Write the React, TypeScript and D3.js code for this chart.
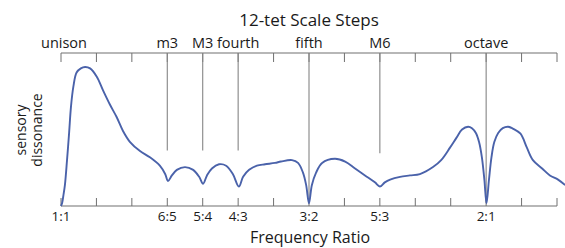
import React from "react";
import * as d3 from "d3";

// Curve samples: x in semitones above the unison, y = relative sensory dissonance
const semitones = [
  0, 0.03, 0.07, 0.11, 0.17, 0.23, 0.28, 0.35, 0.44, 0.56, 0.68, 0.82, 1.01, 1.19, 1.38, 1.57, 1.75, 1.95,
  2.23, 2.51, 2.79, 2.94, 3.02, 3.13, 3.27, 3.5, 3.73, 3.9, 4.01, 4.12, 4.26, 4.46, 4.66, 4.85, 5.02,
  5.14, 5.31, 5.53, 5.76, 6.04, 6.21, 6.52, 6.69, 6.83, 6.92, 7.0, 7.08, 7.2, 7.37, 7.73, 8.02, 8.3,
  8.58, 8.86, 9.0, 9.14, 9.29, 9.57, 9.85, 10.13, 10.5, 10.73, 10.98, 11.16, 11.32, 11.49, 11.6, 11.71,
  11.8, 11.88, 11.95, 12.01, 12.08, 12.15, 12.23, 12.34, 12.47, 12.62, 12.77, 12.97, 13.15, 13.32, 13.58,
  13.8, 14.03, 14.23,
];
const dissonance = [
  0, 0.02, 0.08, 0.15, 0.33, 0.53, 0.71, 0.86, 0.96, 0.99, 1.0, 0.99, 0.93, 0.83, 0.73, 0.64, 0.54, 0.46,
  0.395, 0.35, 0.29, 0.23, 0.18, 0.22, 0.26, 0.28, 0.26, 0.21, 0.16, 0.22, 0.27, 0.3, 0.29, 0.23, 0.14,
  0.21, 0.26, 0.29, 0.3, 0.31, 0.32, 0.33, 0.31, 0.24, 0.15, 0.02, 0.15, 0.24, 0.31, 0.34, 0.32, 0.27,
  0.22, 0.17, 0.14, 0.17, 0.19, 0.21, 0.22, 0.23, 0.28, 0.33, 0.42, 0.49, 0.55, 0.57, 0.56, 0.525,
  0.46, 0.35, 0.19, 0.02, 0.19, 0.35, 0.46, 0.525, 0.56, 0.57, 0.555, 0.52, 0.42, 0.33, 0.27,
  0.22, 0.19, 0.15,
];

const stepTicks = [0, 1, 2, 3, 4, 5, 6, 7, 8, 9, 10, 11, 12, 13, 14];
const intervalSteps = [0, 3, 4, 5, 7, 9, 12];
const intervalNames = ["unison", "m3", "M3", "fourth", "fifth", "M6", "octave"];
const ratioLabels = ["1:1", "6:5", "5:4", "4:3", "3:2", "5:3", "2:1"];
const lineEnds = [null, 0.4, 0.4, 0.4, 0.02, 0.38, 0.02];

const W = 565;
const H = 248;
const FONT = "'Open Sans', 'Noto Sans', sans-serif";

export default function App() {
  const x = d3.scaleLinear().domain([0, 14]).range([61, 557]);
  const y = d3.scaleLinear().domain([0, 1]).range([206, 67]);
  const topY = 53;
  const botY = 206;

  const pts: [number, number][] = semitones.map((s, i) => [x(s), y(dissonance[i])]);
  const line = d3.line().curve(d3.curveCatmullRom.alpha(0.5))(pts) || "";

  const axisColor = "#707070";
  const textColor = "#1a1a1a";

  return (
    <svg
      width={W}
      height={H}
      style={{ position: "absolute", left: 0, top: 0, background: "#fff" }}
      fontFamily={FONT}
    >
      {/* title */}
      <text x={309} y={26} textAnchor="middle" fontSize={17} fill={textColor}>
        12-tet Scale Steps
      </text>
      {/* top axis */}
      <line x1={x(0)} x2={x(14)} y1={topY} y2={topY} stroke={axisColor} strokeWidth={1.2} />
      {stepTicks.map((t) => (
        <line key={"tt" + t} x1={x(t)} x2={x(t)} y1={topY} y2={topY + 9} stroke={axisColor} strokeWidth={1} />
      ))}
      {intervalSteps.map((s, i) =>
        lineEnds[i] === null ? null : (
          <line
            key={"vl" + s}
            x1={x(s)}
            x2={x(s)}
            y1={topY}
            y2={y(lineEnds[i] as number)}
            stroke="#858585"
            strokeWidth={1.1}
          />
        )
      )}
      {intervalSteps.map((s, i) => (
        <text key={"il" + s} x={x(s) + (i === 0 ? 3 : 0)} y={48} textAnchor="middle" fontSize={14.5} fill={textColor}>
          {intervalNames[i]}
        </text>
      ))}
      {/* bottom axis */}
      <line x1={x(0)} x2={x(14)} y1={botY} y2={botY} stroke={axisColor} strokeWidth={1.2} />
      {stepTicks.map((t) => (
        <line key={"bt" + t} x1={x(t)} x2={x(t)} y1={botY - 8} y2={botY} stroke={axisColor} strokeWidth={1} />
      ))}
      {intervalSteps.map((s, i) => (
        <text key={"rl" + s} x={x(s)} y={221} textAnchor="middle" fontSize={13.5} fill={textColor}>
          {ratioLabels[i]}
        </text>
      ))}
      <text x={310} y={243} textAnchor="middle" fontSize={16} fill={textColor}>
        Frequency Ratio
      </text>
      {/* y label */}
      <g transform="translate(26,130) rotate(-90)">
        <text x={0} y={0} textAnchor="middle" fontSize={14} fill={textColor}>
          sensory
        </text>
        <text x={0} y={16} textAnchor="middle" fontSize={14} fill={textColor}>
          dissonance
        </text>
      </g>
      {/* curve */}
      <path d={line} fill="none" stroke="#4a62aa" strokeWidth={1.9} strokeLinejoin="round" />
    </svg>
  );
}
